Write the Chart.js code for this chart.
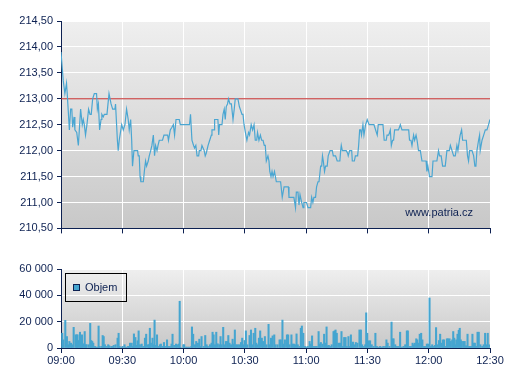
<!DOCTYPE html>
<html>
<head>
<meta charset="utf-8">
<script src="https://cdn.jsdelivr.net/npm/chart.js@4.4.1/dist/chart.umd.min.js"></script>
<style>
  body { margin: 0; background: #fff; }
  #wrap { position: relative; width: 507px; height: 380px; }
  #price-chart { position: absolute; left: 0; top: 0; }
  #volume-chart { position: absolute; left: 0; top: 255px; }
</style>
</head>
<body>
<div id="wrap">
  <canvas id="price-chart" width="507" height="239"></canvas>
  <canvas id="volume-chart" width="507" height="125"></canvas>
</div>
<script>
// minutes after 09:00
var priceTimes = [0,1.1,1.9,2.7,3.2,4.1,4.7,5.3,5.7,6.4,6.8,7.7,8.5,9.6,10.4,10.9,11.4,12,12.7,13.5,14.2,14.8,15.5,16.3,17.4,17.8,18.3,18.9,19.6,20,20.7,21.2,22.5,23.5,24.5,25.3,26.4,26.7,27.6,28,28.5,29.7,30.5,31.3,32.1,32.9,33.4,34.1,34.6,35,35.7,37.5,37.8,38.3,38.7,39.1,40.3,40.8,41.4,41.9,42.7,43.2,43.9,44.5,45.2,45.8,46.3,47,47.5,48.1,49.7,50.4,52.2,52.6,53.5,54.3,55,55.6,56.3,57.9,58.4,62.9,63.4,64.1,64.9,65.4,66,66.6,67.4,67.7,68.5,69,70.1,70.6,71.1,72,72.8,73.6,73.9,74.9,75.2,76.8,77.2,77.6,78.8,79.3,79.9,80.4,80.9,81.5,82,82.7,83.4,84.2,84.8,85.3,86.6,87.3,88.6,89.1,89.6,90.5,91,91.8,92.3,93.1,93.8,94.5,95.1,95.8,96.2,96.9,97.6,98.2,98.9,99.5,100,100.5,101.3,101.8,102.2,102.8,103.3,103.8,104.5,105.4,107.5,108.3,109.2,111.3,111.6,114,114.8,115.2,116,116.5,117,117.8,118.5,118.9,120.2,120.9,122.2,122.7,123.3,123.8,124.6,125.1,125.8,126.3,127.1,127.6,128,128.4,129,129.5,130.3,130.8,131.7,132.8,133.3,134.4,135.2,136.5,136.9,137.2,137.7,139.6,140.3,140.6,141.3,142.3,142.6,143.6,144.1,145.2,145.7,146.2,146.7,147.1,147.8,148.3,149.1,149.9,150.8,153.2,154.8,155.3,157.6,158.2,159.2,159.6,160.4,161.2,161.7,162.3,162.8,163.3,165.2,166.1,166.9,170.2,170.6,171.3,171.8,172.6,173.1,173.8,174.3,175,175.9,176.7,178.7,179.1,179.6,180.4,181.6,182.1,184,184.8,185.3,186.1,186.8,188.1,188.9,190.1,190.6,191.4,192.2,193,193.8,194.3,195,195.4,196.1,196.6,198.4,199,199.5,200,201.2,202,202.6,203.1,203.6,204.4,204.9,205.2,206.1,206.9,207.7,208.5,209.3,210];
var priceValues = [213.9,213.35,213.1,213.3,213.0,212.4,212.8,212.8,212.45,212.65,212.4,212.35,212.1,212.8,212.5,212.6,212.5,212.3,212.5,212.8,212.7,212.7,213.0,213.1,213.1,212.8,212.9,212.4,212.6,212.7,212.65,212.7,212.7,213.1,212.9,212.8,212.8,212.9,212.2,212.0,212.2,212.5,212.4,212.5,212.8,212.6,212.4,212.6,212.2,211.7,212.0,212.0,211.9,211.9,211.5,211.4,211.4,211.6,211.8,211.7,211.8,211.9,212.0,212.1,212.3,211.9,212.1,212.0,212.1,212.2,212.2,212.3,212.3,212.2,212.4,212.45,212.5,212.3,212.6,212.6,212.5,212.5,212.7,212.2,212.1,212.05,212.1,211.9,211.9,212.0,212.0,212.1,212.0,211.9,211.95,212.1,212.2,212.3,212.4,212.4,212.6,212.6,212.3,212.5,212.5,212.7,212.8,212.6,212.85,212.9,213.0,212.9,212.9,212.6,212.8,213.0,213.0,212.85,212.7,212.7,212.5,212.3,212.2,212.35,212.3,212.5,212.4,212.5,212.2,212.2,212.35,212.2,212.3,212.2,212.2,212.1,212.1,211.8,211.9,211.8,211.6,211.5,211.6,211.5,211.6,211.4,211.4,211.1,211.3,211.3,211.1,211.1,210.9,211.2,211.2,210.95,211.15,211.0,210.9,211.0,211.0,210.9,210.9,211.1,211.0,211.1,211.1,211.3,211.4,211.4,211.7,211.7,211.9,211.8,211.6,211.7,211.7,211.9,212.0,212.0,211.9,211.9,211.8,211.8,212.0,212.1,212.0,212.0,211.95,211.9,212.0,212.0,211.8,211.8,211.9,211.9,212.1,212.4,212.4,212.3,212.5,212.3,212.5,212.6,212.5,212.5,212.3,212.5,212.5,212.2,212.2,212.3,212.3,212.4,212.1,212.2,212.2,212.4,212.4,212.5,212.4,212.4,212.2,212.2,212.1,212.3,212.2,212.3,212.2,212.0,212.0,211.8,211.8,211.6,211.7,211.5,211.5,211.8,211.8,212.0,211.9,211.9,211.7,211.7,212.0,212.0,212.1,212.0,211.9,211.9,212.1,212.0,212.2,212.3,212.4,212.2,212.2,211.9,211.8,212.0,212.0,211.9,211.7,211.7,212.0,212.2,212.3,212.0,212.2,212.3,212.4,212.4,212.5,212.6];
var prevClose = 213.0;

var volumeTimes = [0.6,1.1,2.1,2.9,3.6,4.1,4.9,5.4,6.2,7.2,7.7,8.1,8.6,9.3,9.8,10.3,10.9,11.6,12.1,12.5,13.5,14.3,14.8,15.3,15.8,16.6,17.1,17.9,18.4,18.9,19.9,20.4,20.9,21.5,22.3,23.1,23.6,24.6,25.3,25.8,26.7,27.7,28.2,28.7,29.7,30.2,31.1,31.8,32.8,33.3,33.8,34.6,35.2,35.7,36.4,36.9,37.5,38,38.6,39.5,40.3,41.1,41.7,42.6,43.1,43.5,44,44.8,45.3,45.8,46.3,47,47.6,48.4,48.9,49.7,50.4,51,51.9,52.5,53.3,54.1,54.6,55.4,56.3,56.9,57.7,58.1,58.5,59.9,60.3,61.2,62,62.8,63.8,64.1,64.7,65.6,66.2,67,67.7,68.3,68.8,69.8,70.6,71.3,71.9,72.9,73.7,74.2,74.7,75.4,76,76.7,77.5,78.1,78.6,79.4,80.1,80.7,81.4,81.9,82.5,83.2,84,84.6,85.1,85.8,86.4,87.2,88.1,88.7,89.4,89.9,90.5,91.2,92.3,93,93.6,94.3,95.1,95.6,96.2,96.9,97.5,98.3,98.9,99.8,100.6,101.6,102.1,102.8,103.6,104.4,105,106,107,107.6,108.4,108.9,109.6,110.6,111.2,111.9,112.8,113.3,114,114.6,115.3,115.9,116.7,117.4,117.9,118.6,119.4,120,120.8,121.7,122.3,122.9,123.6,124.4,125.2,126.1,126.6,127.2,128,128.8,129.5,130,130.5,131.1,131.8,132.5,133.4,133.9,134.4,135,135.8,136.6,137.3,137.9,138.6,139.3,139.9,140.7,141.2,141.9,142.4,142.9,143.5,144.3,145.1,146.1,146.8,147.4,148.1,148.9,149.4,149.9,150.5,151.3,152.1,153,153.9,154.6,155.4,156.2,157,157.8,158.7,159.3,159.9,160.8,161.8,162.3,162.8,163.6,164.4,165.2,166,166.8,167.7,168.5,169.3,169.8,170.6,171.3,172.1,172.6,173.2,173.9,174.4,175,175.6,176.3,176.9,177.7,178.4,179.1,179.7,180.4,181,181.7,182.3,183,183.6,184.3,185,185.6,186.4,186.9,187.5,188.2,188.9,189.5,190.2,190.8,191.5,192,192.5,193.1,193.5,194.1,194.7,195.2,195.7,196.2,197,197.6,198.3,199,199.7,200.3,201,201.4,202.1,202.6,203.2,203.9,204.5,205.3,206.2,206.9,207.6,208.4,208.9,209.7];
var volumeValues = [11200,6200,21000,8700,2500,5000,3700,2500,15700,10000,10000,10000,5700,12000,3700,10000,3200,12500,2500,2500,2500,18700,5700,5000,3700,1200,700,700,16700,1200,1200,9500,8700,2500,1200,2500,1700,1200,1200,2000,2500,7500,11200,1200,700,1200,2500,700,1200,1200,3700,3700,1200,10700,8000,2000,5500,13000,2500,3000,1200,7500,10500,2500,2500,15000,3700,7500,2500,21200,2000,10000,1200,2500,3000,1200,4200,1200,6200,1200,1200,3000,10500,2000,3000,2500,3000,35500,500,2500,2500,700,700,700,1200,16000,10500,2500,5000,3700,6700,1200,8700,1200,9500,2500,1200,2500,3700,12000,10000,2500,12000,3200,2500,8700,2500,15700,2500,5000,5000,9500,3700,2500,6700,3000,13700,2500,2500,2500,4200,7500,2500,5700,13000,2500,9500,13700,2500,11200,15000,3700,2500,7500,13000,7500,5000,8700,2500,18000,2500,7500,9200,10000,2500,2500,6200,6200,21200,3000,6200,10000,10000,2500,10000,3000,3000,2500,10700,2500,1200,15000,16700,11200,1200,700,1200,5000,3000,9200,1200,1200,1200,12500,3000,4200,3000,10500,3700,16000,1700,2000,1200,2500,12500,13000,13700,11200,3700,3700,12500,1200,8000,8000,1200,8700,1200,10000,2500,4500,2500,4200,3700,13700,13700,2500,1200,2500,26700,11200,5500,5500,2500,1200,11200,1200,700,1200,700,1200,1200,6200,3700,1200,19700,7000,7000,2500,1200,1200,12000,700,1200,2500,13000,13000,1200,1200,3700,2500,3700,7000,6200,3700,10500,11200,6200,1200,1200,3000,3000,38000,1200,2500,1200,2000,15500,2500,5700,10500,3700,6200,6200,1200,7000,7000,7000,5000,6200,12500,7500,2500,6200,10500,13500,15000,6200,5000,5000,5000,1700,10500,1200,1200,1200,10500,3700,3700,1200,12000,12000,2500,1200,2500,11200,2500,11200,2500];

var navy = '#0d2152';
var lineBlue = '#4aa6d2';
var barBlue = '#45a5d0';
Chart.defaults.font.family = '"Liberation Sans", Arial, sans-serif';
Chart.defaults.font.size = 11;
Chart.defaults.color = navy;

function timeLabel(v) {
  var t = 540 + v;
  var h = Math.floor(t / 60), m = t % 60;
  return (h < 10 ? '0' : '') + h + ':' + (m < 10 ? '0' : '') + m;
}

var plotBackground = {
  id: 'plotBackground',
  beforeDraw: function(chart) {
    var a = chart.chartArea, ctx = chart.ctx;
    var g = ctx.createLinearGradient(0, a.top, 0, a.bottom);
    g.addColorStop(0, '#efefef');
    g.addColorStop(1, '#c8c8c8');
    ctx.save();
    ctx.fillStyle = g;
    ctx.fillRect(a.left, a.top, a.right - a.left, a.bottom - a.top);
    ctx.restore();
  }
};

var watermark = {
  id: 'watermark',
  afterDraw: function(chart) {
    var a = chart.chartArea, ctx = chart.ctx;
    ctx.save();
    ctx.font = '11px "Liberation Sans", Arial, sans-serif';
    ctx.fillStyle = navy;
    ctx.textAlign = 'right';
    ctx.fillText('www.patria.cz', a.right - 17, a.bottom - 12);
    ctx.restore();
  }
};

// framed legend in the top-left corner of the volume plot
var volumeLegend = {
  id: 'volumeLegend',
  afterDraw: function(chart) {
    var a = chart.chartArea, ctx = chart.ctx;
    var ds = chart.data.datasets[0];
    var x = a.left + 4, y = a.top + 4;
    ctx.save();
    ctx.font = '11px "Liberation Sans", Arial, sans-serif';
    var w = 20 + ctx.measureText(ds.label).width + 9;
    ctx.strokeStyle = '#000';
    ctx.lineWidth = 1;
    ctx.strokeRect(x + 0.5, y + 0.5, Math.round(w), 28);
    ctx.fillStyle = ds.backgroundColor;
    ctx.fillRect(x + 8, y + 11, 7, 7);
    ctx.strokeStyle = navy;
    ctx.strokeRect(x + 8.5, y + 11.5, 6, 6);
    ctx.fillStyle = navy;
    ctx.textBaseline = 'middle';
    ctx.fillText(ds.label, x + 20, y + 15);
    ctx.restore();
  }
};

new Chart(document.getElementById('price-chart'), {
  type: 'line',
  data: {
    datasets: [
      {
        data: priceTimes.map(function(t, i) { return {x: t, y: priceValues[i]}; }),
        borderColor: lineBlue,
        borderWidth: 1.2,
        pointRadius: 0,
        tension: 0,
        fill: false,
        order: 1
      },
      {
        data: [{x: 0, y: prevClose}, {x: 210, y: prevClose}],
        borderColor: '#c02a2a',
        borderWidth: 1,
        pointRadius: 0,
        fill: false,
        order: 2
      }
    ]
  },
  options: {
    responsive: false,
    animation: false,
    devicePixelRatio: 1,
    layout: { padding: { top: 21, right: 17, left: 0, bottom: 0 } },
    plugins: { legend: { display: false }, tooltip: { enabled: false } },
    scales: {
      x: {
        type: 'linear', min: 0, max: 210,
        ticks: { stepSize: 30, display: false },
        grid: { color: '#ffffff', tickColor: navy, tickLength: 5 },
        border: { color: navy, width: 1 },
        afterFit: function(s) { s.height = 10; }
      },
      y: {
        min: 210.5, max: 214.5,
        ticks: {
          stepSize: 0.5, padding: 4, color: navy,
          callback: function(v) { return v.toFixed(2).replace('.', ','); }
        },
        grid: { color: '#ffffff', tickColor: navy, tickLength: 4 },
        border: { color: navy, width: 1 },
        afterFit: function(s) { s.width = 61; }
      }
    }
  },
  plugins: [plotBackground, watermark]
});

new Chart(document.getElementById('volume-chart'), {
  type: 'bar',
  data: {
    datasets: [{
      label: 'Objem',
      data: volumeTimes.map(function(t, i) { return {x: t, y: volumeValues[i]}; }),
      backgroundColor: barBlue,
      borderWidth: 0,
      barThickness: 1.4
    }]
  },
  options: {
    responsive: false,
    animation: false,
    devicePixelRatio: 1,
    layout: { padding: { top: 14, right: 17, left: 0, bottom: 0 } },
    plugins: {
      tooltip: { enabled: false },
      legend: { display: false }
    },
    scales: {
      x: {
        type: 'linear', min: 0, max: 210, offset: false,
        ticks: { stepSize: 30, padding: 1, color: navy, callback: timeLabel },
        grid: { color: '#ffffff', tickColor: navy, tickLength: 5, offset: false },
        border: { color: navy, width: 1 },
        afterFit: function(s) { s.height = 32; }
      },
      y: {
        min: 0, max: 60000,
        ticks: {
          stepSize: 20000, padding: 4, color: navy,
          callback: function(v) { return v === 0 ? '0' : (v / 1000) + ' 000'; }
        },
        grid: { color: '#ffffff', tickColor: navy, tickLength: 4 },
        border: { color: navy, width: 1 },
        afterFit: function(s) { s.width = 61; }
      }
    }
  },
  plugins: [plotBackground, volumeLegend]
});
</script>
</body>
</html>
